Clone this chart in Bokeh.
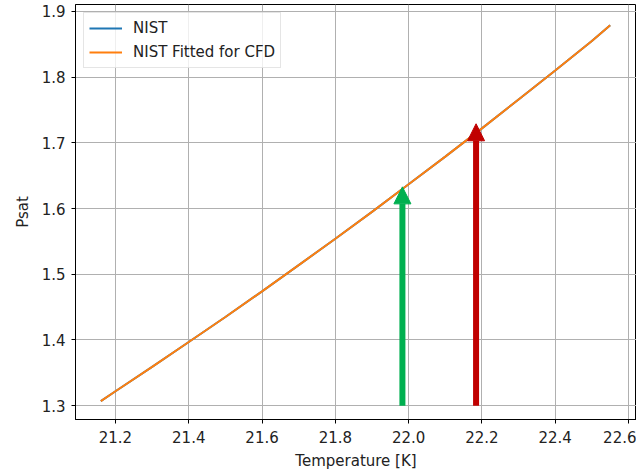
from bokeh.plotting import figure
from bokeh.models import Range1d, Arrow, NormalHead, FixedTicker, Legend, PrintfTickFormatter
from bokeh.embed import file_html
from bokeh.resources import INLINE

# ---- data ----
T_nist = [21.16, 21.2, 21.3, 21.4, 21.5, 21.6, 21.7, 21.8, 21.9, 22.0,
          22.1, 22.2, 22.3, 22.4, 22.5, 22.55]
P_nist = [1.307, 1.322, 1.359, 1.397, 1.435, 1.474, 1.514, 1.554, 1.595, 1.637,
          1.679, 1.722, 1.766, 1.810, 1.855, 1.879]
T_fit = [21.16, 21.2, 21.3, 21.4, 21.5, 21.6, 21.7, 21.8, 21.9, 22.0,
         22.1, 22.2, 22.3, 22.4, 22.5, 22.55]
P_fit = [1.307, 1.322, 1.359, 1.397, 1.435, 1.474, 1.514, 1.554, 1.595, 1.637,
         1.679, 1.722, 1.766, 1.810, 1.855, 1.879]

arrow_T = [21.983, 22.184]
arrow_P_start = [1.30, 1.30]
arrow_P_end = [1.633, 1.729]
arrow_colors = ["#00b050", "#c00000"]

x_ticks = [21.2, 21.4, 21.6, 21.8, 22.0, 22.2, 22.4, 22.6]
y_ticks = [1.3, 1.4, 1.5, 1.6, 1.7, 1.8, 1.9]

FONT = "DejaVu Sans"
FS = "15px"

p = figure(width=636, height=472, output_backend="svg", toolbar_location=None,
           x_range=Range1d(21.0909, 22.6218), y_range=Range1d(1.279, 1.9105),
           min_border_left=75, min_border_right=0, min_border_top=4,
           min_border_bottom=50)

p.background_fill_color = "white"
p.border_fill_color = "white"
p.outline_line_color = "black"
p.outline_line_width = 1

l1 = p.line(T_nist, P_nist, line_color="#1f77b4", line_width=2)
l2 = p.line(T_fit, P_fit, line_color="#ff7f0e", line_width=2)

for xv, y0, y1, c in zip(arrow_T, arrow_P_start, arrow_P_end, arrow_colors):
    p.add_layout(Arrow(x_start=xv, y_start=y0, x_end=xv, y_end=y1,
                       line_color=c, line_width=6, line_cap="butt",
                       end=NormalHead(size=17, fill_color=c, line_color=c, line_width=1)))

p.xaxis.ticker = FixedTicker(ticks=x_ticks)
p.yaxis.ticker = FixedTicker(ticks=y_ticks)
p.xaxis.formatter = PrintfTickFormatter(format="%.1f")
p.yaxis.formatter = PrintfTickFormatter(format="%.1f")
p.xaxis.axis_label = "Temperature [K]"
p.yaxis.axis_label = "Psat"

for ax in (p.xaxis, p.yaxis):
    ax.axis_line_color = "black"
    ax.major_tick_line_color = "black"
    ax.major_tick_out = 4
    ax.major_tick_in = 0
    ax.minor_tick_line_color = None
    ax.major_label_text_font = FONT
    ax.major_label_text_font_size = FS
    ax.major_label_text_color = "#222222"
    ax.axis_label_text_font = FONT
    ax.axis_label_text_font_size = FS
    ax.axis_label_text_font_style = "normal"
    ax.axis_label_text_color = "#222222"

p.xaxis.major_label_standoff = 7
p.xaxis.axis_label_standoff = 6
p.yaxis.major_label_standoff = 6
p.yaxis.axis_label_standoff = 7

p.xgrid.grid_line_color = "#b0b0b0"
p.ygrid.grid_line_color = "#b0b0b0"
p.xgrid.grid_line_width = 1
p.ygrid.grid_line_width = 1

legend = Legend(items=[("NIST", [l1]), ("NIST Fitted for CFD", [l2])],
                location="top_left")
legend.margin = 8
legend.padding = 5
legend.spacing = 4
legend.glyph_width = 33
legend.glyph_height = 20
legend.label_height = 20
legend.label_standoff = 11
legend.label_text_font = FONT
legend.label_text_font_size = FS
legend.label_text_color = "#222222"
legend.border_line_color = "#cccccc"
legend.border_line_width = 1
legend.background_fill_color = "white"
legend.background_fill_alpha = 0.8
p.add_layout(legend)

open("out.html", "w").write(file_html(p, INLINE))
